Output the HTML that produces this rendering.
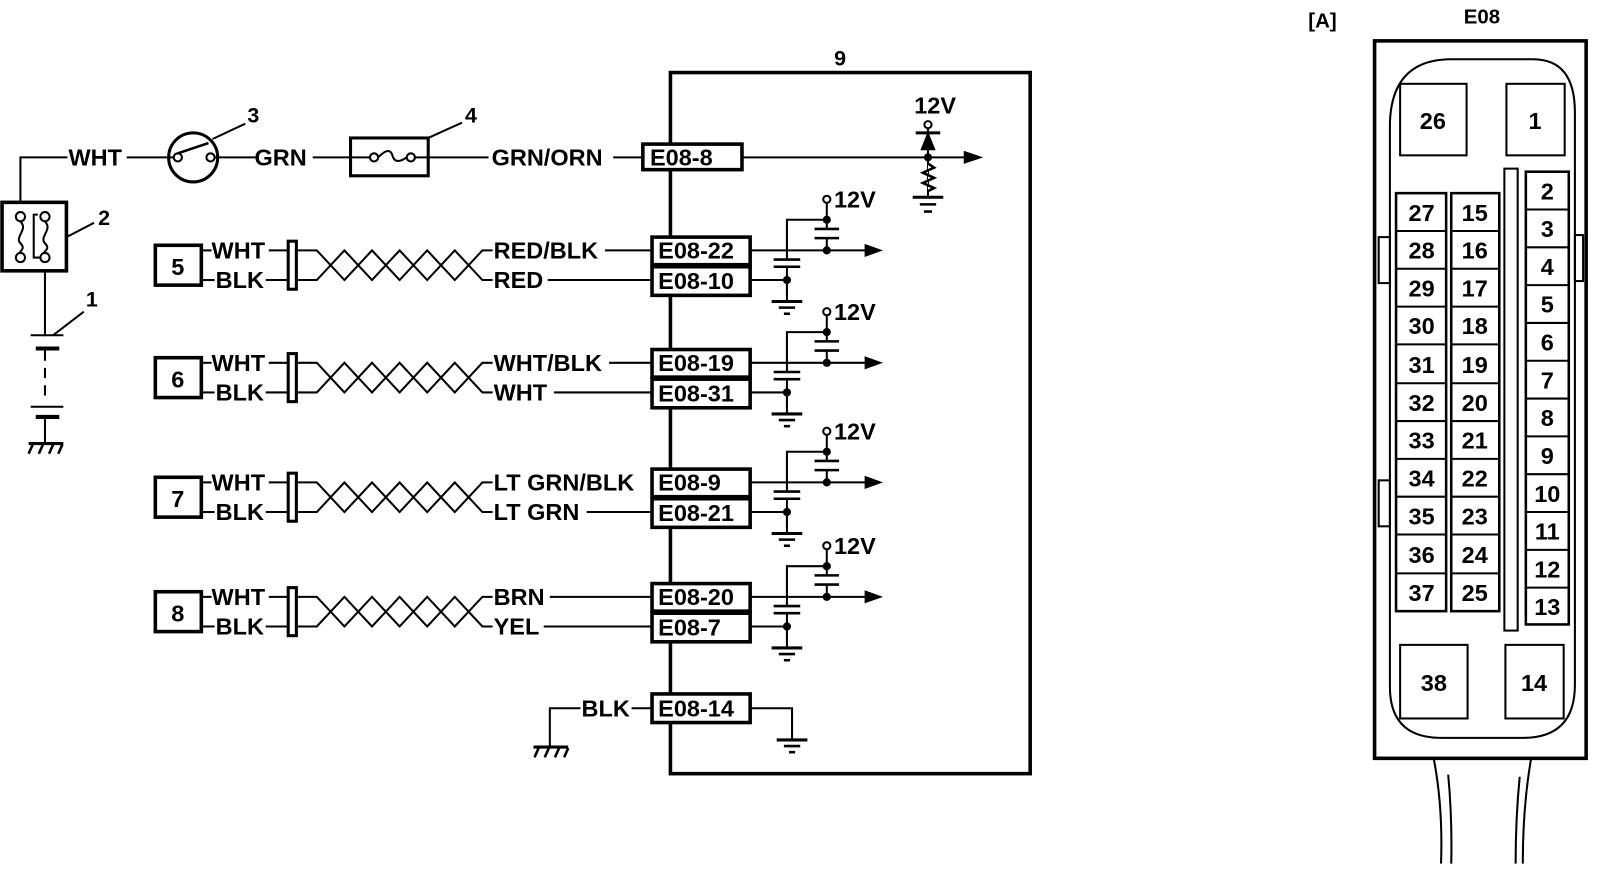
<!DOCTYPE html>
<html><head><meta charset="utf-8"><style>
html,body{margin:0;padding:0;background:#fff;}
svg{display:block;}
text{font-family:"Liberation Sans",sans-serif;font-weight:bold;fill:#000;}
</style></head><body>
<svg width="1600" height="886" viewBox="0 0 1600 886" xmlns="http://www.w3.org/2000/svg">
<defs>
<g id="rc" stroke="#000" fill="none" stroke-width="2">
<line x1="734" y1="0" x2="848" y2="0"/>
<polygon points="847,-5 861,0 847,5" fill="#000"/>
<polyline points="770,9 770,-30 809,-30"/>
<line x1="757" y1="9" x2="783" y2="9" stroke-width="2.5"/>
<line x1="757" y1="16" x2="783" y2="16" stroke-width="2.5"/>
<line x1="770" y1="16" x2="770" y2="50"/>
<line x1="734" y1="29" x2="770" y2="29"/>
<circle cx="770" cy="29" r="3" fill="#000"/>
<line x1="755" y1="50" x2="785" y2="50" stroke-width="3"/>
<line x1="762" y1="56" x2="778" y2="56" stroke-width="2.5"/>
<line x1="767" y1="62" x2="773" y2="62" stroke-width="2.5"/>
<circle cx="809" cy="-50" r="3.5"/>
<line x1="809" y1="-46" x2="809" y2="-21"/>
<circle cx="809" cy="-30" r="3" fill="#000"/>
<line x1="797" y1="-21" x2="821" y2="-21" stroke-width="2.5"/>
<line x1="797" y1="-12" x2="821" y2="-12" stroke-width="2.5"/>
<line x1="809" y1="-12" x2="809" y2="0"/>
<circle cx="809" cy="0" r="3" fill="#000"/>
<text x="816" y="-42" font-size="23" stroke="none">12V</text>
</g>
<g id="tw" stroke="#000" fill="none" stroke-width="2">
<line x1="197" y1="0" x2="207" y2="0"/><line x1="197" y1="29" x2="210" y2="29"/>
<line x1="263" y1="0" x2="300" y2="0"/><line x1="260" y1="29" x2="300" y2="29"/>
<rect x="282" y="-9" width="8" height="47" stroke-width="3" fill="#fff"/>
<polyline points="300,0 310,0 337,29 364,0 391,29 418,0 445,29 472,0 482,0"/>
<polyline points="300,29 310,29 337,0 364,29 391,0 418,29 445,0 472,29 482,29"/>
<rect x="152" y="-5" width="45" height="39" stroke-width="3.5"/>
<rect x="638" y="-13" width="96" height="27" stroke-width="3.5" fill="#fff"/>
<rect x="638" y="16" width="96" height="28" stroke-width="3.5" fill="#fff"/>
</g>
</defs>
<g transform="scale(1.022)" stroke="#000" fill="none" stroke-width="2">
<rect x="656" y="71" width="352" height="686" stroke-width="3.5"/>
<text x="822" y="64" font-size="21" text-anchor="middle" stroke="none">9</text>

<polyline points="20,198 20,154 66,154"/>
<text x="67" y="162" font-size="23" stroke="none">WHT</text>
<line x1="124" y1="154" x2="170" y2="154"/>
<circle cx="189" cy="154" r="24" stroke-width="3"/>
<circle cx="174" cy="154" r="4"/><circle cx="206" cy="154" r="4"/>
<line x1="174" y1="150" x2="204" y2="140" stroke-width="2.5"/>
<line x1="208" y1="136" x2="240" y2="121"/>
<text x="242" y="120" font-size="21" stroke="none">3</text>
<line x1="210" y1="154" x2="250" y2="154"/>
<text x="249" y="162" font-size="23" stroke="none">GRN</text>
<line x1="306" y1="154" x2="362" y2="154"/>
<rect x="343" y="135" width="76" height="37" stroke-width="3"/>
<circle cx="366" cy="154" r="4"/><circle cx="402" cy="154" r="4"/>
<path d="M370,154 C378,146 382,146 384,152 C386,160 392,158 398,154"/>
<line x1="406" y1="154" x2="478" y2="154"/>
<line x1="419" y1="135" x2="452" y2="120"/>
<text x="455" y="120" font-size="21" stroke="none">4</text>
<text x="481" y="162" font-size="23" stroke="none">GRN/ORN</text>
<line x1="600" y1="154" x2="629" y2="154"/>
<rect x="629" y="141" width="97" height="25" stroke-width="3.5" fill="#fff"/>
<text x="636" y="162" font-size="23" stroke="none">E08-8</text>
<line x1="726" y1="154" x2="945" y2="154"/>
<polygon points="944,149 959,154 944,159" fill="#000"/>
<text x="915" y="111" font-size="23" text-anchor="middle" stroke="none">12V</text>
<circle cx="908" cy="122" r="3.5"/>
<line x1="908" y1="126" x2="908" y2="192"/>
<line x1="896" y1="130" x2="920" y2="130" stroke-width="3"/>
<polygon points="908,131 902,146 914,146" fill="#000"/>
<circle cx="908" cy="154" r="3" fill="#000"/>
<polyline points="908,160 914,164 903,169 914,174 903,179 914,184 908,187" fill="#fff" stroke-width="2.5"/>
<line x1="893" y1="193" x2="923" y2="193" stroke-width="3"/>
<line x1="900" y1="200" x2="916" y2="200" stroke-width="2.5"/>
<line x1="904" y1="207" x2="912" y2="207" stroke-width="2.5"/>

<rect x="2" y="198" width="63" height="67" stroke-width="3.5"/>
<circle cx="20" cy="212" r="4.5"/><circle cx="44" cy="212" r="4.5"/>
<circle cx="20" cy="252" r="4.5"/><circle cx="44" cy="252" r="4.5"/>
<path d="M20,217 C28,224 14,232 20,238 C26,244 18,246 20,247"/>
<path d="M44,217 C52,224 38,232 44,238 C50,244 42,246 44,247"/>
<polyline points="37,210 33,210 33,252 39,252"/>
<line x1="65" y1="232" x2="92" y2="218"/>
<text x="96" y="220" font-size="21" stroke="none">2</text>
<line x1="44" y1="265" x2="44" y2="329"/>
<line x1="52" y1="328" x2="82" y2="305"/>
<text x="84" y="300" font-size="21" stroke="none">1</text>
<line x1="30" y1="328" x2="62" y2="328"/>
<line x1="35" y1="341" x2="58" y2="341" stroke-width="4"/>
<line x1="44" y1="343" x2="44" y2="393" stroke-dasharray="10,7"/>
<line x1="30" y1="398" x2="62" y2="398"/>
<line x1="35" y1="408" x2="58" y2="408" stroke-width="4"/>
<line x1="44" y1="410" x2="44" y2="434"/>
<line x1="28" y1="434" x2="62" y2="434" stroke-width="3"/>
<path d="M32,435 l-4,9 M42,435 l-4,9 M52,435 l-4,9 M61,435 l-4,9" stroke-width="2.5"/>

<g transform="translate(0,245)" stroke="none" font-size="23">
<use href="#tw"/><use href="#rc"/>
<text x="174" y="24" text-anchor="middle">5</text>
<text x="207" y="8">WHT</text><text x="211" y="37">BLK</text>
<text x="483" y="8">RED/BLK</text><text x="483" y="37">RED</text>
<line x1="592" y1="0" x2="638" y2="0" stroke="#000"/><line x1="536" y1="29" x2="638" y2="29" stroke="#000"/>
<text x="644" y="8">E08-22</text><text x="644" y="38">E08-10</text>
</g>
<g transform="translate(0,355)" stroke="none" font-size="23">
<use href="#tw"/><use href="#rc"/>
<text x="174" y="24" text-anchor="middle">6</text>
<text x="207" y="8">WHT</text><text x="211" y="37">BLK</text>
<text x="483" y="8">WHT/BLK</text><text x="483" y="37">WHT</text>
<line x1="596" y1="0" x2="638" y2="0" stroke="#000"/><line x1="542" y1="29" x2="638" y2="29" stroke="#000"/>
<text x="644" y="8">E08-19</text><text x="644" y="38">E08-31</text>
</g>
<g transform="translate(0,472)" stroke="none" font-size="23">
<use href="#tw"/><use href="#rc"/>
<text x="174" y="24" text-anchor="middle">7</text>
<text x="207" y="8">WHT</text><text x="211" y="37">BLK</text>
<text x="483" y="8">LT GRN/BLK</text><text x="483" y="37">LT GRN</text>
<line x1="574" y1="29" x2="638" y2="29" stroke="#000"/>
<text x="644" y="8">E08-9</text><text x="644" y="38">E08-21</text>
</g>
<g transform="translate(0,584)" stroke="none" font-size="23">
<use href="#tw"/><use href="#rc"/>
<text x="174" y="24" text-anchor="middle">8</text>
<text x="207" y="8">WHT</text><text x="211" y="37">BLK</text>
<text x="483" y="8">BRN</text><text x="483" y="37">YEL</text>
<line x1="538" y1="0" x2="638" y2="0" stroke="#000"/><line x1="532" y1="29" x2="638" y2="29" stroke="#000"/>
<text x="644" y="8">E08-20</text><text x="644" y="38">E08-7</text>
</g>

<polyline points="538,730 538,693 568,693"/>
<text x="569" y="701" font-size="23" stroke="none">BLK</text>
<line x1="618" y1="693" x2="638" y2="693"/>
<rect x="638" y="679" width="96" height="28" stroke-width="3.5" fill="#fff"/>
<text x="644" y="701" font-size="23" stroke="none">E08-14</text>
<polyline points="734,693 775,693 775,724"/>
<line x1="760" y1="724" x2="790" y2="724" stroke-width="3"/>
<line x1="767" y1="730" x2="783" y2="730" stroke-width="2.5"/>
<line x1="772" y1="736" x2="778" y2="736" stroke-width="2.5"/>
<line x1="522" y1="731" x2="556" y2="731" stroke-width="3"/>
<path d="M527,732 l-4,9 M537,732 l-4,9 M547,732 l-4,9 M556,732 l-4,9" stroke-width="2.5"/>

<text x="1294" y="27" font-size="20" text-anchor="middle" stroke="none">[A]</text>
<text x="1450" y="23" font-size="20" text-anchor="middle" stroke="none">E08</text>
<rect x="1345" y="40" width="207" height="702" stroke-width="3.5"/>
<path d="M1360,120 Q1362,58 1420,58 L1500,58 Q1541,58 1541,110 L1541,670 Q1541,722 1490,722 L1410,722 Q1360,722 1360,672 Z"/>
<rect x="1349" y="232" width="11" height="45"/><rect x="1349" y="470" width="11" height="45"/>
<rect x="1541" y="230" width="8" height="45"/>
<rect x="1370" y="82" width="65" height="70"/>
<rect x="1474" y="82" width="57" height="70"/>
<rect x="1370" y="631" width="66" height="72"/>
<rect x="1473" y="631" width="57" height="72"/>
<text x="1402" y="126" font-size="23" text-anchor="middle" stroke="none">26</text>
<text x="1502" y="126" font-size="23" text-anchor="middle" stroke="none">1</text>
<text x="1403" y="676" font-size="23" text-anchor="middle" stroke="none">38</text>
<text x="1501" y="676" font-size="23" text-anchor="middle" stroke="none">14</text>
<rect x="1472" y="165" width="13" height="452"/>
<rect x="1366" y="189" width="49" height="409" stroke-width="2.5"/>
<rect x="1420" y="189" width="47" height="409" stroke-width="2.5"/>
<rect x="1493" y="168" width="42" height="443" stroke-width="2.5"/>
<path d="M1366,226 h49 M1366,263 h49 M1366,300 h49 M1366,337 h49 M1366,375 h49 M1366,412 h49 M1366,449 h49 M1366,486 h49 M1366,523 h49 M1366,561 h49"/>
<path d="M1420,226 h47 M1420,263 h47 M1420,300 h47 M1420,337 h47 M1420,375 h47 M1420,412 h47 M1420,449 h47 M1420,486 h47 M1420,523 h47 M1420,561 h47"/>
<path d="M1493,205 h42 M1493,242 h42 M1493,279 h42 M1493,316 h42 M1493,353 h42 M1493,390 h42 M1493,427 h42 M1493,464 h42 M1493,501 h42 M1493,538 h42 M1493,575 h42"/>
<g stroke="none" font-size="23" text-anchor="middle">
<text x="1391" y="216">27</text><text x="1391" y="253">28</text><text x="1391" y="290">29</text><text x="1391" y="327">30</text><text x="1391" y="365">31</text><text x="1391" y="402">32</text><text x="1391" y="439">33</text><text x="1391" y="476">34</text><text x="1391" y="513">35</text><text x="1391" y="551">36</text><text x="1391" y="588">37</text>
<text x="1443" y="216">15</text><text x="1443" y="253">16</text><text x="1443" y="290">17</text><text x="1443" y="327">18</text><text x="1443" y="365">19</text><text x="1443" y="402">20</text><text x="1443" y="439">21</text><text x="1443" y="476">22</text><text x="1443" y="513">23</text><text x="1443" y="551">24</text><text x="1443" y="588">25</text>
<text x="1514" y="195">2</text><text x="1514" y="232">3</text><text x="1514" y="269">4</text><text x="1514" y="306">5</text><text x="1514" y="343">6</text><text x="1514" y="380">7</text><text x="1514" y="417">8</text><text x="1514" y="454">9</text><text x="1514" y="491">10</text><text x="1514" y="528">11</text><text x="1514" y="565">12</text><text x="1514" y="602">13</text>
</g>
<path d="M1403,743 Q1412,790 1410,845 M1417,758 Q1421,800 1420,845 M1487,760 Q1483,800 1483,845 M1498,743 Q1490,790 1490,845"/>
</g>
</svg>
</body></html>
